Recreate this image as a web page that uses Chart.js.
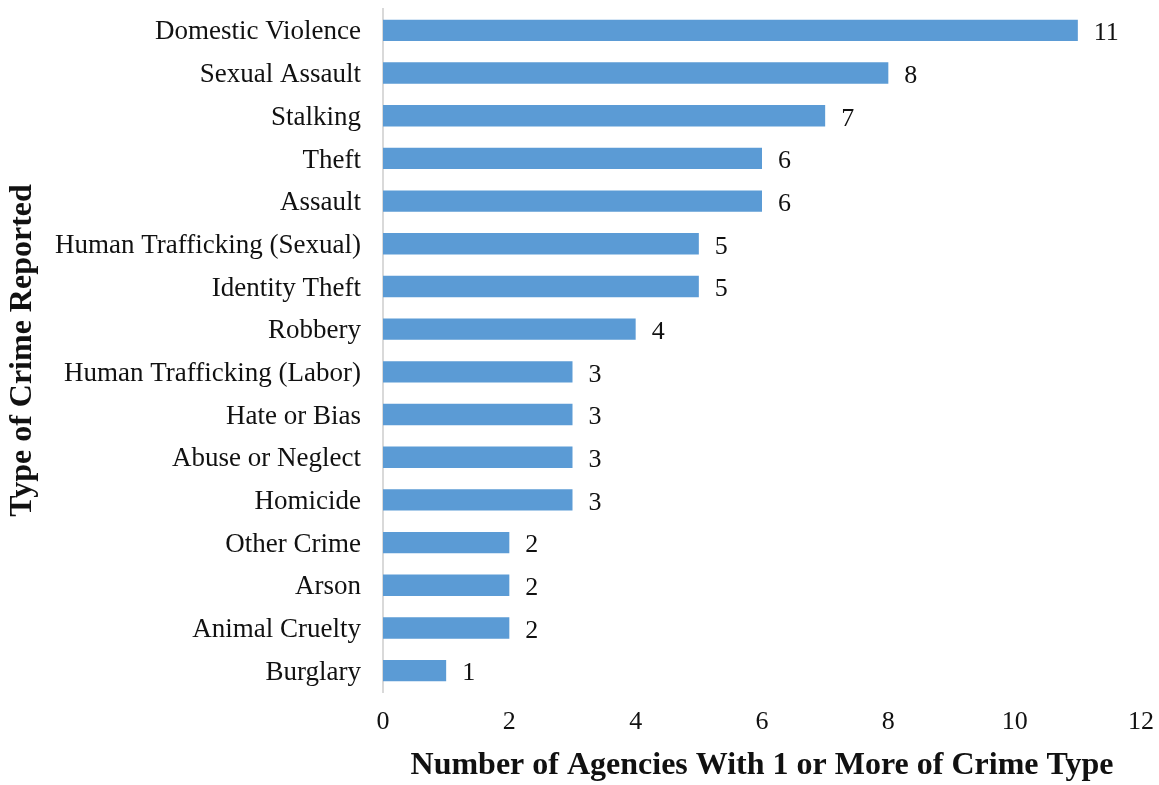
<!DOCTYPE html>
<html>
<head>
<meta charset="utf-8">
<script src="https://cdn.jsdelivr.net/npm/chart.js@4/dist/chart.umd.min.js"></script>
<style>
  html, body { margin: 0; padding: 0; background: #fff; }
  #wrap { width: 1159px; height: 785px; }
</style>
</head>
<body>
<div id="wrap"><canvas id="crimeChart" width="1159" height="785"></canvas></div>
<script>
const crimeTypes = [
    'Domestic Violence', 'Sexual Assault', 'Stalking', 'Theft', 'Assault',
    'Human Trafficking (Sexual)', 'Identity Theft', 'Robbery',
    'Human Trafficking (Labor)', 'Hate or Bias', 'Abuse or Neglect', 'Homicide',
    'Other Crime', 'Arson', 'Animal Cruelty', 'Burglary'
];
const agencyCounts = [11, 8, 7, 6, 6, 5, 5, 4, 3, 3, 3, 3, 2, 2, 2, 1];
const xTickMax = 12;
const xTickStep = 2;

const serif = '"Liberation Serif", "Times New Roman", serif';
const textColor = '#111';

// writes each bar's count just past its end
const barValueLabels = {
    id: 'barValueLabels',
    afterDatasetsDraw(chart) {
        const ctx = chart.ctx;
        const meta = chart.getDatasetMeta(0);
        ctx.save();
        ctx.font = '26px ' + serif;
        ctx.fillStyle = textColor;
        ctx.textAlign = 'left';
        ctx.textBaseline = 'middle';
        meta.data.forEach((bar, i) => {
            ctx.fillText(String(chart.data.datasets[0].data[i]), bar.x + 16, bar.y + 3);
        });
        ctx.restore();
    }
};

const ctx1 = document.getElementById('crimeChart').getContext('2d');
const crimeChart = new Chart(ctx1, {
    type: 'bar',
    data: {
        labels: crimeTypes,
        datasets: [{
            data: agencyCounts,
            backgroundColor: '#5B9BD5',
            borderWidth: 0,
            barPercentage: 0.5,
            categoryPercentage: 1.0
        }]
    },
    options: {
        indexAxis: 'y',
        responsive: false,
        animation: false,
        layout: { padding: { top: 9, right: 18, bottom: 0, left: 0 } },
        plugins: {
            legend: { display: false },
            tooltip: { enabled: false }
        },
        scales: {
            x: {
                min: 0,
                max: xTickMax,
                afterFit: (scale) => {
                    scale.height = 93;
                    scale.paddingLeft = 0;
                    scale.paddingRight = 0;
                },
                grid: { display: false, drawTicks: false },
                border: { display: false },
                ticks: {
                    stepSize: xTickStep,
                    padding: 15,
                    color: textColor,
                    font: { family: serif, size: 26 }
                },
                title: {
                    display: true,
                    text: 'Number of Agencies With 1 or More of Crime Type',
                    color: textColor,
                    padding: 0,
                    font: { family: serif, size: 32, weight: 'bold' }
                }
            },
            y: {
                afterFit: (scale) => {
                    scale.width = 383;
                    scale.paddingTop = 0;
                    scale.paddingBottom = 0;
                },
                grid: { display: false, drawTicks: false },
                border: { display: true, color: '#d9d9d9', width: 2 },
                ticks: {
                    autoSkip: false,
                    padding: 22,
                    labelOffset: 2,
                    color: textColor,
                    font: { family: serif, size: 27 }
                },
                title: {
                    display: true,
                    text: 'Type of Crime Reported',
                    color: textColor,
                    padding: { top: 4, bottom: 0 },
                    font: { family: serif, size: 32, weight: 'bold' }
                }
            }
        }
    },
    plugins: [barValueLabels]
});
</script>
</body>
</html>
